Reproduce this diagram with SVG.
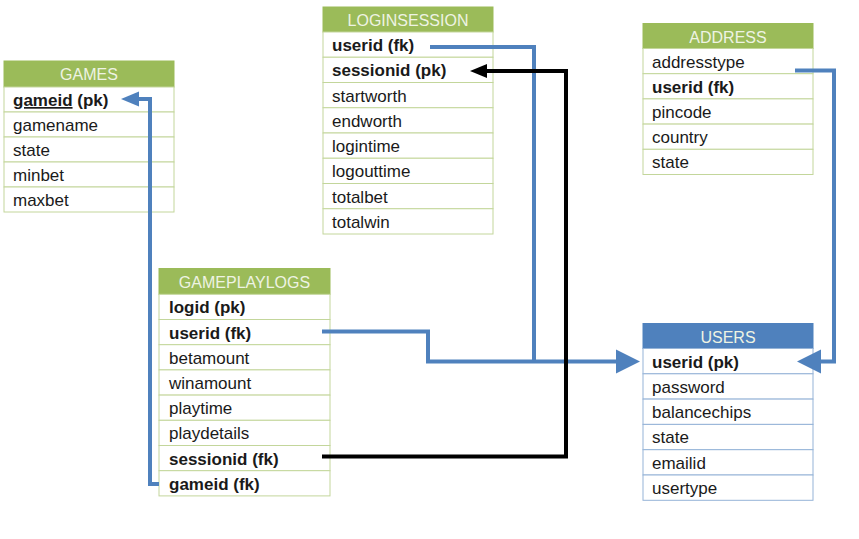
<svg xmlns="http://www.w3.org/2000/svg" width="859" height="539" viewBox="0 0 859 539">
<style>
.hdr{fill:#9bbb59;stroke:#9bbb59;stroke-width:1}
.hdrb{fill:#4f81bd;stroke:#4f81bd;stroke-width:1}
.row{fill:#fff;stroke:#c3d69b;stroke-width:1}
.rowb{fill:#fff;stroke:#95b3d7;stroke-width:1}
.ht{font-family:"Liberation Sans",Arial,sans-serif;font-size:16px;fill:#eef3e3;text-anchor:middle}
.t{font-family:"Liberation Sans",Arial,sans-serif;font-size:17px;fill:#1a1a1a}
.b{font-weight:bold}
.cb{fill:none;stroke:#4f81bd;stroke-width:4;stroke-linejoin:miter}
.ck{fill:none;stroke:#000;stroke-width:4;stroke-linejoin:miter}
</style>
<defs>
<marker id="ab" markerUnits="userSpaceOnUse" markerWidth="24" markerHeight="24" refX="0" refY="12" orient="auto" overflow="visible"><path d="M0,0 L24,12 L0,24 z" fill="#4f81bd"/></marker>
<marker id="as" markerUnits="userSpaceOnUse" markerWidth="18" markerHeight="15" refX="0" refY="7.5" orient="auto" overflow="visible"><path d="M0,0 L18,7.5 L0,15 z" fill="#4f81bd"/></marker>
<marker id="ak" markerUnits="userSpaceOnUse" markerWidth="17" markerHeight="14" refX="0" refY="7" orient="auto" overflow="visible"><path d="M0,0 L17,7 L0,14 z" fill="#000"/></marker>
</defs>
<rect width="859" height="539" fill="#fff"/>

<g id="games">
<rect class="hdr" x="4" y="61" width="170" height="26"/>
<text class="ht" x="89" y="80">GAMES</text>
<rect class="row" x="4" y="87" width="170" height="25"/>
<rect class="row" x="4" y="112" width="170" height="25"/>
<rect class="row" x="4" y="137" width="170" height="25"/>
<rect class="row" x="4" y="162" width="170" height="25"/>
<rect class="row" x="4" y="187" width="170" height="25"/>
<text class="t b" x="13" y="106"><tspan text-decoration="underline">gameid</tspan> (pk)</text>
<text class="t" x="13" y="131">gamename</text>
<text class="t" x="13" y="156">state</text>
<text class="t" x="13" y="181">minbet</text>
<text class="t" x="13" y="206">maxbet</text>
</g>

<g id="loginsession">
<rect class="hdr" x="323" y="7" width="170" height="25"/>
<text class="ht" x="408" y="26">LOGINSESSION</text>
<rect class="row" x="323" y="32" width="170" height="25.25"/>
<rect class="row" x="323" y="57.25" width="170" height="25.25"/>
<rect class="row" x="323" y="82.5" width="170" height="25.25"/>
<rect class="row" x="323" y="107.75" width="170" height="25.25"/>
<rect class="row" x="323" y="133" width="170" height="25.25"/>
<rect class="row" x="323" y="158.25" width="170" height="25.25"/>
<rect class="row" x="323" y="183.5" width="170" height="25.25"/>
<rect class="row" x="323" y="208.75" width="170" height="25.25"/>
<text class="t b" x="332" y="51">userid (fk)</text>
<text class="t b" x="332" y="76.25">sessionid (pk)</text>
<text class="t" x="332" y="101.5">startworth</text>
<text class="t" x="332" y="126.75">endworth</text>
<text class="t" x="332" y="152">logintime</text>
<text class="t" x="332" y="177.25">logouttime</text>
<text class="t" x="332" y="202.5">totalbet</text>
<text class="t" x="332" y="227.75">totalwin</text>
</g>

<g id="address">
<rect class="hdr" x="643" y="23.5" width="170" height="25"/>
<text class="ht" x="728" y="42.5">ADDRESS</text>
<rect class="row" x="643" y="48.5" width="170" height="25.2"/>
<rect class="row" x="643" y="73.7" width="170" height="25.2"/>
<rect class="row" x="643" y="98.9" width="170" height="25.2"/>
<rect class="row" x="643" y="124.1" width="170" height="25.2"/>
<rect class="row" x="643" y="149.3" width="170" height="25.2"/>
<text class="t" x="652" y="67.5">addresstype</text>
<text class="t b" x="652" y="92.7">userid (fk)</text>
<text class="t" x="652" y="117.9">pincode</text>
<text class="t" x="652" y="143.1">country</text>
<text class="t" x="652" y="168.3">state</text>
</g>

<g id="gameplaylogs">
<rect class="hdr" x="159" y="268.5" width="171" height="25.8"/>
<text class="ht" x="244.5" y="288">GAMEPLAYLOGS</text>
<rect class="row" x="159" y="294.3" width="171" height="25.2"/>
<rect class="row" x="159" y="319.5" width="171" height="25.2"/>
<rect class="row" x="159" y="344.7" width="171" height="25.2"/>
<rect class="row" x="159" y="369.9" width="171" height="25.2"/>
<rect class="row" x="159" y="395.1" width="171" height="25.2"/>
<rect class="row" x="159" y="420.3" width="171" height="25.2"/>
<rect class="row" x="159" y="445.5" width="171" height="25.2"/>
<rect class="row" x="159" y="470.7" width="171" height="25.2"/>
<text class="t b" x="169" y="313.3">logid (pk)</text>
<text class="t b" x="169" y="338.5">userid (fk)</text>
<text class="t" x="169" y="363.7">betamount</text>
<text class="t" x="169" y="388.9">winamount</text>
<text class="t" x="169" y="414.1">playtime</text>
<text class="t" x="169" y="439.3">playdetails</text>
<text class="t b" x="169" y="464.5">sessionid (fk)</text>
<text class="t b" x="169" y="489.7">gameid (fk)</text>
</g>

<g id="users">
<rect class="hdrb" x="643" y="323.5" width="170" height="25"/>
<text class="ht" x="728" y="342.5">USERS</text>
<rect class="rowb" x="643" y="348.5" width="170" height="25.3"/>
<rect class="rowb" x="643" y="373.8" width="170" height="25.3"/>
<rect class="rowb" x="643" y="399.1" width="170" height="25.3"/>
<rect class="rowb" x="643" y="424.4" width="170" height="25.3"/>
<rect class="rowb" x="643" y="449.7" width="170" height="25.3"/>
<rect class="rowb" x="643" y="475" width="170" height="25.3"/>
<text class="t b" x="652" y="367.5">userid (pk)</text>
<text class="t" x="652" y="392.8">password</text>
<text class="t" x="652" y="418.1">balancechips</text>
<text class="t" x="652" y="443.4">state</text>
<text class="t" x="652" y="468.7">emailid</text>
<text class="t" x="652" y="494">usertype</text>
</g>

<g id="connectors">
<polyline class="cb" points="159,484 150,484 150,99 139,99" marker-end="url(#as)"/>
<polyline class="cb" points="322,331.5 428,331.5 428,361.5 616,361.5" marker-end="url(#ab)"/>
<polyline class="cb" points="430,47 534,47 534,361.5"/>
<polyline class="cb" points="795,70.5 834,70.5 834,361.5 821,361.5" marker-end="url(#ab)"/>
<polyline class="ck" points="322,456.5 566,456.5 566,71 487,71" marker-end="url(#ak)"/>
</g>
</svg>
